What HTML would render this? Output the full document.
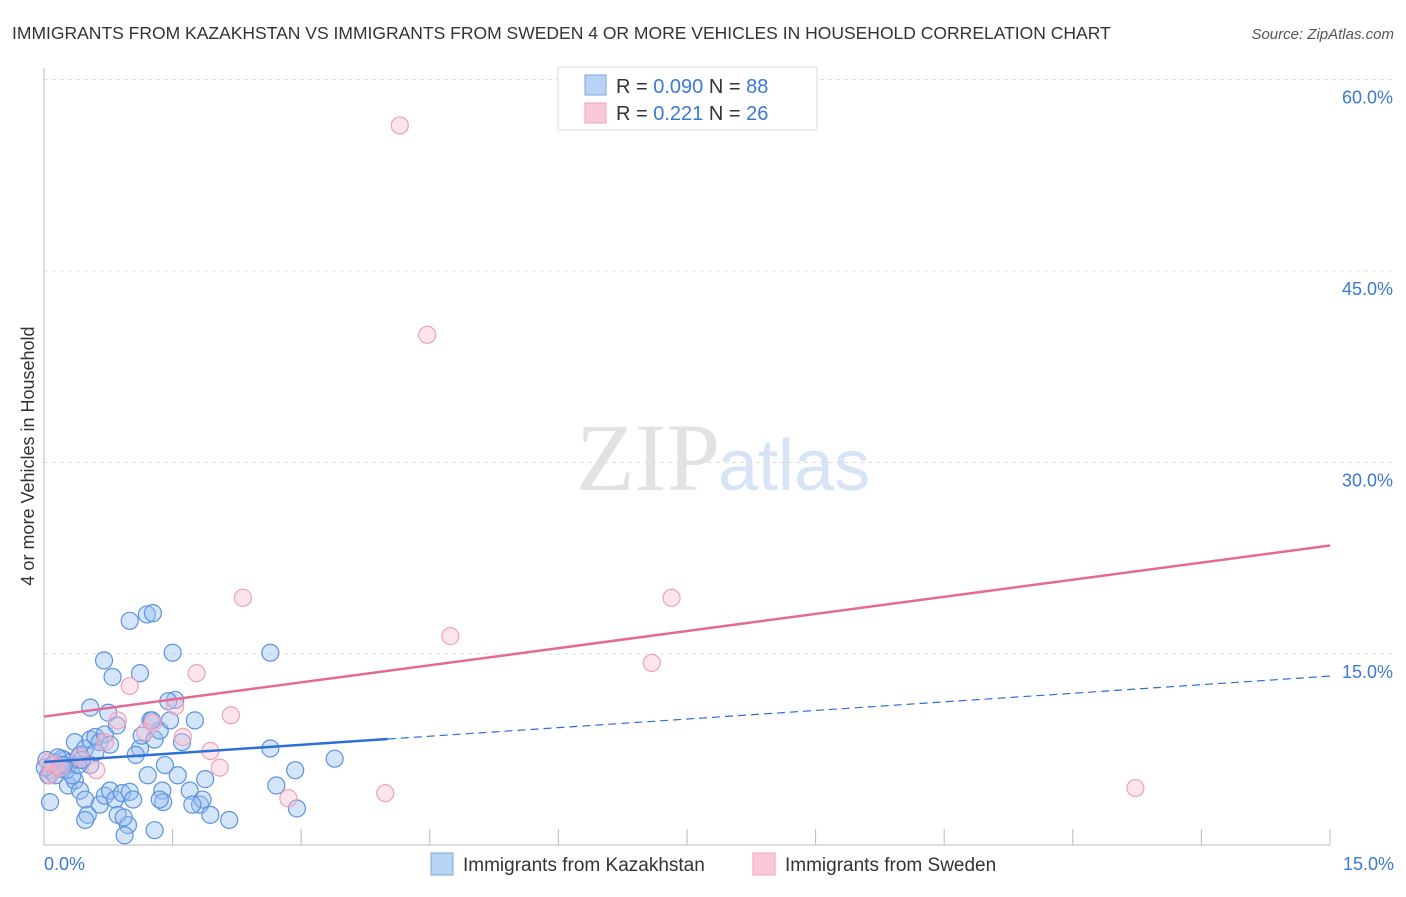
<!DOCTYPE html>
<html><head><meta charset="utf-8"><style>
body{margin:0;background:#fff;font-family:"Liberation Sans",sans-serif;}
svg text{font-family:"Liberation Sans",sans-serif;}
</style></head><body>
<svg width="1406" height="892" viewBox="0 0 1406 892">
<text x="12" y="39" font-size="17.5" fill="#333">IMMIGRANTS FROM KAZAKHSTAN VS IMMIGRANTS FROM SWEDEN 4 OR MORE VEHICLES IN HOUSEHOLD CORRELATION CHART</text>
<text x="1394" y="39" font-size="15" fill="#555" font-style="italic" text-anchor="end">Source: ZipAtlas.com</text>
<text x="720" y="490" font-size="96" fill="#e2e2e2" text-anchor="end" font-family="Liberation Serif" style="font-family:'Liberation Serif',serif">ZIP</text>
<text x="718" y="490" font-size="72" fill="#d6e4f5">atlas</text>
<g id="grid"></g>
<g id="axes"></g>
<g id="points"></g>
<g id="lines"></g>
<text transform="translate(34,456) rotate(-90)" font-size="18" fill="#333" text-anchor="middle">4 or more Vehicles in Household</text>
<g>
<rect x="558" y="67" width="259" height="63" fill="#fff" stroke="#ddd"/>
<rect x="585" y="75" width="21" height="20" fill="#b8d3f5" stroke="#7aa5e0"/>
<rect x="585" y="103" width="21" height="20" fill="#f8c8d6" stroke="#eea0b8"/>
<text x="616" y="93" font-size="20" fill="#333">R = <tspan fill="#3b78d8">0.090</tspan>   N = <tspan fill="#3b78d8">88</tspan></text>
<text x="616" y="120" font-size="20" fill="#333">R =  <tspan fill="#3b78d8"> 0.221</tspan>   N = <tspan fill="#3b78d8">26</tspan></text>
</g>
<g>
<rect x="431" y="853" width="22" height="22" fill="#b8d3f5" stroke="#7aa5e0"/>
<text x="463" y="871" font-size="19" fill="#333">Immigrants from Kazakhstan</text>
<rect x="753" y="853" width="22" height="22" fill="#f8c8d6" stroke="#eea0b8"/>
<text x="785" y="871" font-size="19" fill="#333">Immigrants from Sweden</text>
</g>
</svg>
<script>
const yTicks=[15,30,45,60];
const yTickLabels=["15.0%","30.0%","45.0%","60.0%"];
const xTickLabels=["0.0%","15.0%"];
const blueX=[0.09,0.07,0.13,0.19,0.24,0.05,0.30,0.36,0.42,0.48,0.54,0.60,0.65,0.71,0.77,0.54,0.60,0.28,0.36,0.42,0.48,0.51,0.65,0.71,0.77,0.83,0.86,0.91,0.98,0.94,1.00,1.04,1.12,1.14,1.21,1.24,1.29,1.35,1.38,1.39,1.41,1.47,1.53,1.56,1.61,1.70,1.76,1.82,1.85,1.94,2.16,1.29,0.07,0.48,0.70,0.80,1.00,1.20,1.27,1.12,1.50,2.64,1.45,0.54,0.75,0.85,2.64,2.71,2.93,2.95,3.39,0.19,0.21,0.26,0.33,0.40,0.44,0.13,0.01,0.03,0.16,0.23,0.93,1.07,1.26,1.35,1.73,1.88];
const blueY=[6.3,5.9,6.5,6.0,6.7,5.5,6.5,8.1,7.1,7.6,8.3,8.5,8.1,8.7,7.9,6.3,7.3,4.7,5.1,4.3,3.6,2.4,3.2,3.9,4.3,3.6,2.4,4.1,1.6,0.8,4.2,3.6,7.6,8.6,5.5,9.8,8.3,9.0,4.3,3.4,6.3,9.8,11.4,5.5,8.1,4.3,9.8,3.2,3.6,2.4,2.0,1.2,3.4,2.0,14.5,13.2,17.6,18.1,18.2,13.5,15.1,15.1,11.3,10.8,10.4,9.4,7.6,4.7,5.9,2.9,6.8,6.3,6.8,5.9,5.5,6.3,6.7,5.5,6.1,6.7,6.9,6.3,2.2,7.1,9.8,3.6,3.2,5.2];
const pinkX=[4.15,4.47,2.32,7.32,4.74,7.09,1.78,1.00,1.53,2.18,0.86,1.27,1.62,1.94,2.05,0.61,2.85,3.98,12.73,0.07,0.13,0.05,0.19,0.71,1.18,0.42];
const pinkY=[56.4,40.0,19.4,19.4,16.4,14.3,13.5,12.5,10.9,10.2,9.8,9.6,8.5,7.4,6.1,5.9,3.7,4.1,4.5,5.5,6.3,6.5,6.1,8.1,8.9,6.9];
const blueLine=[6.54,13.27]; const blueSolidEnd=4.01;
const pinkLine=[10.1,23.5];
const NS="http://www.w3.org/2000/svg";
const X=v=>44+v/15*1286, Y=v=>845.5-v/15*191.5;
function mk(tag,attrs,parent){const e=document.createElementNS(NS,tag);for(const k in attrs)e.setAttribute(k,attrs[k]);document.getElementById(parent).appendChild(e);return e;}
yTicks.forEach((t,i)=>{
 const g=mk('line',{x1:44,x2:1394,y1:Y(t),y2:Y(t),stroke:'#ddd','stroke-dasharray':'4,4'},'grid');
 
 
 const l=mk('text',{x:1393,y:Y(t)+24,'font-size':18,fill:'#3b78d8','text-anchor':'end'},'axes');
 l.textContent=yTickLabels[i];
 
 
});
const ax=mk('line',{x1:44,x2:44,y1:68,y2:845,stroke:'#bbb'},'axes');


const bx=mk('line',{x1:44,x2:1330,y1:845,y2:845,stroke:'#bbb'},'axes');


for(let i=1;i<=10;i++){const t=mk('line',{x1:X(i*1.5),x2:X(i*1.5),y1:829,y2:845,stroke:'#bbb'},'axes');
 
 }
[[0,'start',44],[1,'end',1394]].forEach(([i,a,x])=>{const t=mk('text',{x:x,y:870,'font-size':18,fill:'#3b78d8','text-anchor':a},'axes');t.textContent=xTickLabels[i];
 
 });
blueX.forEach((v,i)=>{const c=mk('circle',{cx:X(v),cy:Y(blueY[i]),r:8.5,fill:'rgba(150,190,240,0.4)',stroke:'#5b93e0','stroke-width':1.2},'points');
 
 });
pinkX.forEach((v,i)=>{const c=mk('circle',{cx:X(v),cy:Y(pinkY[i]),r:8.5,fill:'rgba(248,190,208,0.4)',stroke:'#f0a0b8','stroke-width':1.2},'points');
 
 });
const bAt=x=>blueLine[0]+(blueLine[1]-blueLine[0])*x/15;
const l1=mk('line',{x1:X(0),y1:Y(bAt(0)),x2:X(blueSolidEnd),y2:Y(bAt(blueSolidEnd)),stroke:'#2c6fd6','stroke-width':2.5},'lines');


const l2=mk('line',{x1:X(blueSolidEnd),y1:Y(bAt(blueSolidEnd)),x2:X(15),y2:Y(bAt(15)),stroke:'#2c6fd6','stroke-width':1.2,'stroke-dasharray':'8,5'},'lines');


const l3=mk('line',{x1:X(0),y1:Y(pinkLine[0]),x2:X(15),y2:Y(pinkLine[1]),stroke:'#e46a95','stroke-width':2.5},'lines');


</script>
</body></html>
